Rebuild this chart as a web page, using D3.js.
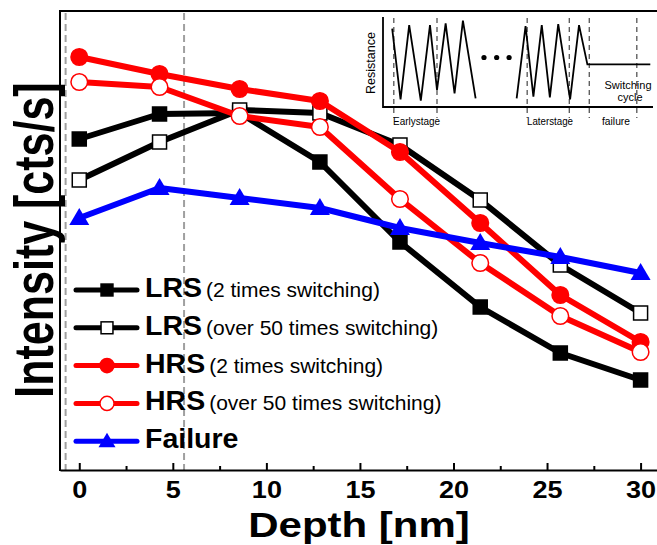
<!DOCTYPE html>
<html>
<head>
<meta charset="utf-8">
<script src="https://cdn.jsdelivr.net/npm/d3@7"></script>
<style>
  body { margin: 0; background: #fff; }
  svg { display: block; font-family: "Liberation Sans", Arial, sans-serif; }
</style>
</head>
<body>
<svg id="chart" width="657" height="545"></svg>
<script>
// depth positions of the measurements (nm)
var depth = [0, 4.29, 8.57, 12.86, 17.14, 21.43, 25.71, 30];
// intensity, arbitrary units
var lrs2   = [331, 356, 357, 308, 228, 163, 117, 90];
var lrs50  = [290, 328, 360, 357, 325, 270, 205, 157];
var hrs2   = [413, 396, 381, 369, 318, 247, 175, 128];
var hrs50  = [388, 383, 354, 343, 271, 207, 154, 118];
var fail   = [252, 282, 272, 262, 242, 227, 213, 197];

var xTicks = [0, 5, 10, 15, 20, 25, 30];
var xMinor = [2.5, 7.5, 12.5, 17.5, 22.5, 27.5];
var stageLines = [-0.73, 5.6];

var legendNames = ["LRS", "LRS", "HRS", "HRS", "Failure"];
var legendNotes = ["(2 times switching)", "(over 50 times switching)", "(2 times switching)", "(over 50 times switching)", ""];

var series = [
  {v: lrs2,  color: "#000", marker: "square",   fill: "#000"},
  {v: lrs50, color: "#000", marker: "square",   fill: "#fff"},
  {v: hrs2,  color: "#f00", marker: "circle",   fill: "#f00"},
  {v: hrs50, color: "#f00", marker: "circle",   fill: "#fff"},
  {v: fail,  color: "#00f", marker: "triangle", fill: "#00f"}
];

var svg = d3.select("#chart");
var x = d3.scaleLinear().domain([-1.03, 31]).range([60, 659.3]);
var y = d3.scaleLinear().domain([0, 459]).range([470, 11]);

// stage markers (grey dashed)
svg.selectAll(".stage").data(stageLines).enter().append("line")
  .attr("x1", d => x(d)).attr("x2", d => x(d))
  .attr("y1", 13).attr("y2", 470)
  .attr("stroke", "#a0a0a0").attr("stroke-width", 2)
  .attr("stroke-dasharray", "7,4");

// frame
svg.append("line").attr("x1", 60).attr("x2", 657).attr("y1", 11).attr("y2", 11)
  .attr("stroke", "#000").attr("stroke-width", 2);
svg.append("line").attr("x1", 60).attr("x2", 60).attr("y1", 10).attr("y2", 471)
  .attr("stroke", "#000").attr("stroke-width", 2);

// x axis with inward ticks
var gx = svg.append("g").attr("transform", "translate(0,470)")
  .call(d3.axisBottom(x).tickValues(xTicks).tickSizeInner(-7).tickSizeOuter(0));
gx.select(".domain").attr("stroke-width", 2);
gx.selectAll(".tick line").attr("stroke-width", 2);
gx.selectAll(".tick text")
  .attr("y", 28).attr("dy", 0)
  .attr("font-size", 23.5).attr("font-weight", "bold")
  .attr("font-family", "Liberation Sans, Arial, sans-serif")
  .attr("transform", "scale(1.15,1)");

var gm = svg.append("g").attr("transform", "translate(0,470)")
  .call(d3.axisBottom(x).tickValues(xMinor).tickSizeInner(-4).tickSizeOuter(0).tickFormat(""));
gm.select(".domain").remove();
gm.selectAll(".tick line").attr("stroke-width", 2);

// axis titles
svg.append("text")
  .attr("transform", "translate(359,537) scale(1.2,1)")
  .attr("text-anchor", "middle").attr("font-weight", "bold").attr("font-size", 35)
  .text("Depth [nm]");
svg.append("text")
  .attr("transform", "translate(53,240) scale(1.3,1) rotate(-90)")
  .attr("text-anchor", "middle").attr("font-weight", "bold").attr("font-size", 43)
  .text("Intensity [cts/s]");

// markers
function drawMarker(g, s, cx, cy, scale) {
  var k = scale || 1;
  if (s.marker === "square") {
    var h = 7 * k;
    g.append("rect").attr("x", cx - h).attr("y", cy - h).attr("width", 2 * h).attr("height", 2 * h)
      .attr("fill", s.fill).attr("stroke", "#000").attr("stroke-width", 1.5);
  } else if (s.marker === "circle") {
    g.append("circle").attr("cx", cx).attr("cy", cy).attr("r", 8.3 * k)
      .attr("fill", s.fill).attr("stroke", s.color).attr("stroke-width", 1.5);
  } else {
    var w = 10 * k, t = 10 * k, b = 7 * k;
    g.append("path")
      .attr("d", "M" + cx + "," + (cy - t) + "L" + (cx + w) + "," + (cy + b) + "L" + (cx - w) + "," + (cy + b) + "Z")
      .attr("fill", s.fill);
  }
}

var line = d3.line().x(d => x(d[0])).y(d => y(d[1]));
series.forEach(function(s) {
  var g = svg.append("g");
  var pts = depth.map((d, i) => [d, s.v[i]]);
  g.append("path").attr("d", line(pts)).attr("fill", "none")
    .attr("stroke", s.color).attr("stroke-width", 6).attr("stroke-linejoin", "round");
  pts.forEach(p => drawMarker(g, s, x(p[0]), y(p[1])));
});

// legend
var leg = svg.append("g");
series.forEach(function(s, i) {
  var cy = 290 + i * 37.8;
  leg.append("line").attr("x1", 76).attr("x2", 137).attr("y1", cy).attr("y2", cy)
    .attr("stroke", s.color).attr("stroke-width", 5).attr("stroke-linecap", "round");
  drawMarker(leg, s, 107, cy, 0.85);
  var t = leg.append("text").attr("x", 145).attr("y", cy + 7);
  t.append("tspan").attr("font-weight", "bold").attr("font-size", 28.5).text(legendNames[i]);
  if (legendNotes[i]) t.append("tspan").attr("font-size", 21).attr("dx", 4).text(legendNotes[i]);
});

// inset: resistance vs switching cycle
var inset = svg.append("g");
var ix = d3.scaleLinear().domain([0, 100]).range([383, 653]);
var iy = d3.scaleLinear().domain([0, 100]).range([107, 17]);
var insetDash = [4, 20, 53.4, 69, 76.4, 94];
inset.selectAll(".idash").data(insetDash).enter().append("line")
  .attr("x1", d => ix(d)).attr("x2", d => ix(d)).attr("y1", 18).attr("y2", 118)
  .attr("stroke", "#555").attr("stroke-width", 1.3).attr("stroke-dasharray", "5,4");
inset.append("path")
  .attr("d", "M" + ix(0) + "," + iy(100) + "V" + iy(0) + "H" + ix(100))
  .attr("fill", "none").attr("stroke", "#000").attr("stroke-width", 1.8);

var early = [[3.4, 87], [6.5, 8.5], [9.7, 91], [14, 7], [17.4, 91], [20, 19], [23.2, 93], [26.5, 15], [29.6, 96], [34.3, 9.5]];
var late = [[49.5, 9.5], [52.8, 90], [55.7, 11.5], [58.8, 91], [61.8, 10.8], [64.9, 92], [69.3, 8.5], [72.6, 91], [75.7, 47.4], [99, 47.4]];
var ell = [[37.4, 55], [42.1, 55], [46.7, 55]];
var iline = d3.line().x(d => ix(d[0])).y(d => iy(d[1]));
[early, late].forEach(function(p) {
  inset.append("path").attr("d", iline(p)).attr("fill", "none")
    .attr("stroke", "#000").attr("stroke-width", 1.8);
});
inset.selectAll(".dot").data(ell).enter().append("circle")
  .attr("cx", d => ix(d[0])).attr("cy", d => iy(d[1])).attr("r", 2.6).attr("fill", "#000");

inset.append("text").attr("transform", "translate(375,63) rotate(-90)")
  .attr("text-anchor", "middle").attr("font-size", 12.5).text("Resistance");
inset.append("text").attr("x", 628).attr("y", 89).attr("text-anchor", "middle")
  .attr("font-size", 11).text("Switching");
inset.append("text").attr("x", 630).attr("y", 101).attr("text-anchor", "middle")
  .attr("font-size", 11).text("cycle");
inset.append("text").attr("x", 393).attr("y", 125).attr("font-size", 11)
  .attr("textLength", 47).attr("lengthAdjust", "spacingAndGlyphs").text("Earlystage");
inset.append("text").attr("x", 527).attr("y", 125).attr("font-size", 11)
  .attr("textLength", 46).attr("lengthAdjust", "spacingAndGlyphs").text("Laterstage");
inset.append("text").attr("x", 602).attr("y", 125).attr("font-size", 11)
  .attr("textLength", 28).attr("lengthAdjust", "spacingAndGlyphs").text("failure");
</script>
</body>
</html>
